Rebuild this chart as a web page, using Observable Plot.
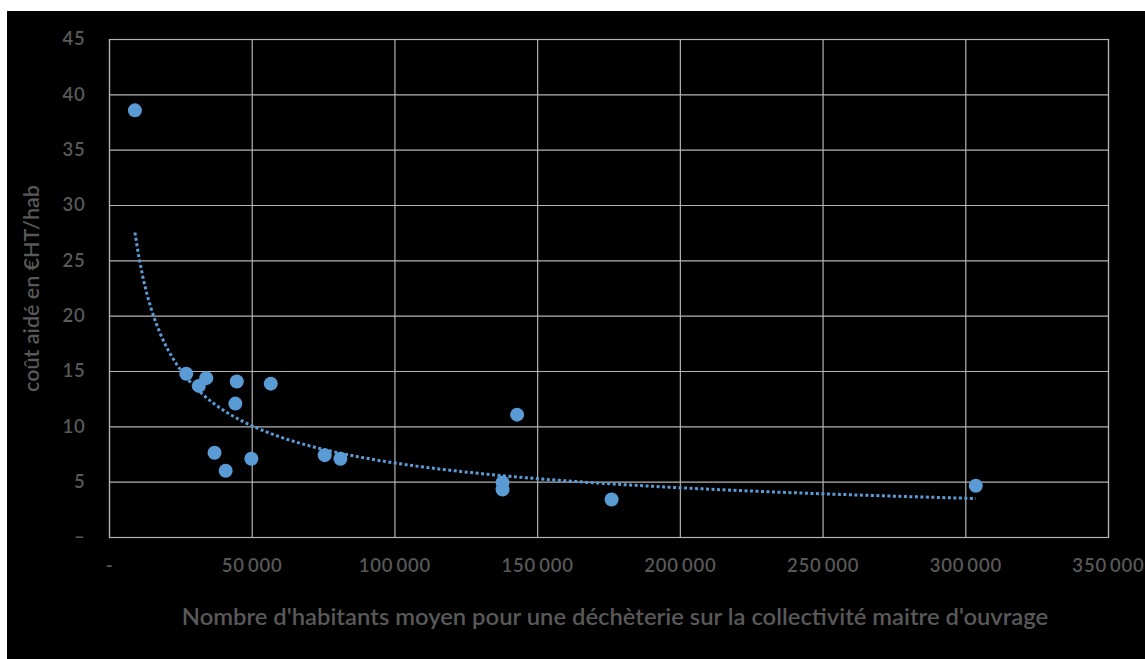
<!DOCTYPE html>
<html>
<head>
<meta charset="utf-8">
<script src="https://cdn.jsdelivr.net/npm/d3@7"></script>
<script src="https://cdn.jsdelivr.net/npm/@observablehq/plot@0.6"></script>
<style>
  html, body { margin: 0; padding: 0; background: #ffffff; }
  #chart { position: absolute; left: 7px; top: 11px; width: 1138px; height: 648px; background: #000000; }
  #chart svg g[aria-label="x-axis tick label"] text,
  #chart svg g[aria-label="y-axis tick label"] text { letter-spacing: 0.8px; }
</style>
</head>
<body>
<div id="chart"></div>
<script>
// Population moyenne par déchèterie (x) et coût aidé en €HT/hab (y)
const habitants = [8900, 26900, 31300, 33900, 44600, 44100, 56500, 36800, 40700, 49700, 75400, 80900, 142800, 137700, 137700, 175900, 303500];
const coutAide  = [38.6, 14.8, 13.7, 14.4, 14.1, 12.1, 13.9, 7.66, 6.03, 7.12, 7.44, 7.12, 11.1, 4.97, 4.34, 3.44, 4.67];
const xTicks = [0, 50000, 100000, 150000, 200000, 250000, 300000, 350000];
const yTicks = [0, 5, 10, 15, 20, 25, 30, 35, 40, 45];
const xTitle = "Nombre d'habitants moyen pour une déchèterie sur la collectivité maitre d'ouvrage";
const yTitle = "coût aidé en €HT/hab";

const points = habitants.map((h, i) => ({x: h, y: coutAide[i]}));

// Courbe de tendance puissance (moindres carrés sur ln x, ln y), comme Excel
const lx = points.map(p => Math.log(p.x)), ly = points.map(p => Math.log(p.y));
const mx = d3.mean(lx), my = d3.mean(ly);
const b = d3.sum(lx.map((v, i) => (v - mx) * (ly[i] - my))) / d3.sum(lx.map(v => (v - mx) ** 2));
const a = Math.exp(my - b * mx);
const [xmin, xmax] = d3.extent(habitants);
const trend = d3.range(0, 201).map(i => {
  const x = xmin + (xmax - xmin) * i / 200;
  return {x, y: a * Math.pow(x, b)};
});

const fmtX = d => d === 0 ? "-" : d3.format(",")(d).replace(/,/g, "\u2009");
const fmtY = d => d === 0 ? "–" : String(d);

const grid = "#b4b4b4";
const txt = "#595959";
const blue = "#5b9bd5";

const plot = Plot.plot({
  width: 1138,
  height: 648,
  marginLeft: 102,
  marginTop: 28,
  marginRight: 37,
  marginBottom: 122,
  style: {background: "#000000", color: txt, fontFamily: "Lato, 'Open Sans', sans-serif", fontSize: "18.5px"},
  x: {domain: [0, 350000]},
  y: {domain: [0, 45]},
  marks: [
    Plot.gridX(xTicks, {stroke: grid, strokeOpacity: 1, strokeWidth: 1.2}),
    Plot.gridY(yTicks, {stroke: grid, strokeOpacity: 1, strokeWidth: 1.2}),
    Plot.frame({stroke: grid, strokeWidth: 1.2}),
    Plot.axisX(xTicks, {tickSize: 0, tickPadding: 21, tickFormat: fmtX, fill: txt, fontWeight: 600, label: null}),
    Plot.axisY(yTicks, {tickSize: 0, tickPadding: 24, tickFormat: fmtY, fill: txt, fontWeight: 600, label: null}),
    Plot.text([xTitle], {frameAnchor: "bottom", dx: 6, dy: 87, text: d => d, fill: txt, fontSize: 23.8, fontWeight: 600}),
    Plot.text([yTitle], {frameAnchor: "left", dx: -77, rotate: -90, textAnchor: "middle", text: d => d, fill: txt, fontSize: 21.5, fontWeight: 600}),
    Plot.line(trend, {x: "x", y: "y", stroke: blue, strokeWidth: 3, strokeDasharray: "3,2.5", strokeLinecap: "butt"}),
    Plot.dot(points, {x: "x", y: "y", r: 7, fill: blue, stroke: "none"})
  ]
});
document.getElementById("chart").appendChild(plot);
</script>
</body>
</html>
